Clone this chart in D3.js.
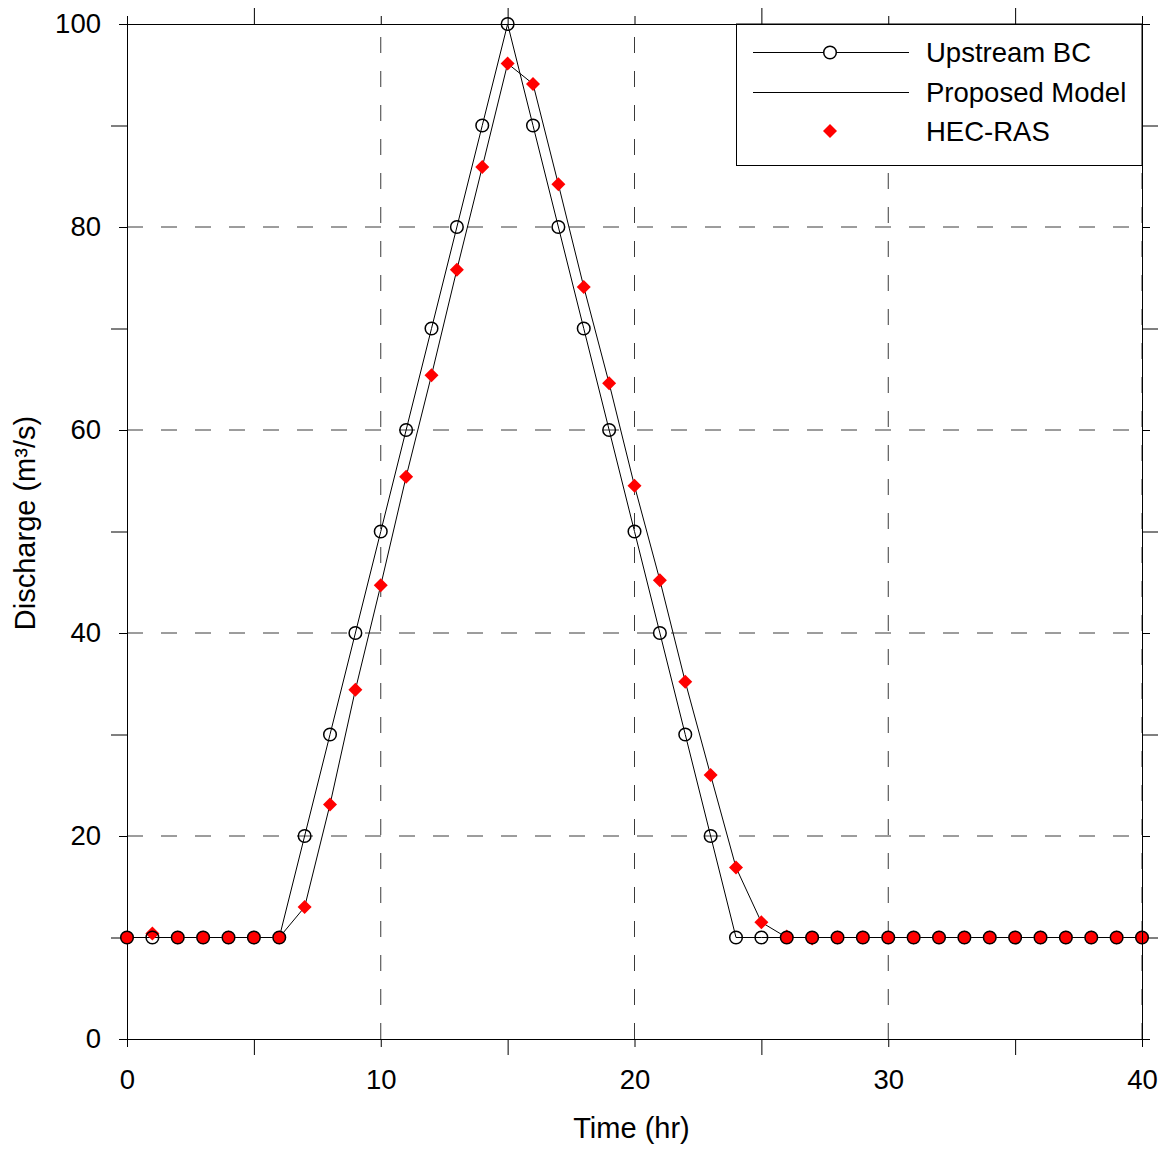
<!DOCTYPE html>
<html>
<head>
<meta charset="utf-8">
<script src="https://cdn.jsdelivr.net/npm/d3@7"></script>
<style>
  html, body { margin: 0; padding: 0; background: #fff; }
  svg { display: block; font-family: "Liberation Sans", Arial, sans-serif; }
</style>
</head>
<body>
<svg id="chart" width="1171" height="1149"></svg>
<script>
// ---- data ----
const times = d3.range(0, 41); // 0..40 hr
const upstreamBC = [10,10,10,10,10,10,10,20,30,40,50,60,70,80,90,100,90,80,70,60,50,40,30,20,10,10,10,10,10,10,10,10,10,10,10,10,10,10,10,10,10];
const hecRas = [10,10.4,10,10,10,10,10,13.0,23.1,34.4,44.7,55.4,65.4,75.8,85.9,96.1,94.1,84.2,74.1,64.6,54.5,45.2,35.2,26.0,16.9,11.5,10.1,9.9,10,10,10,10,10,10,10,10,10,10,10,10,10];
const proposedModel = [10,10,10,10,10,10,10,13.0,23.1,34.4,44.7,55.4,65.4,75.8,85.9,96.1,94.1,84.2,74.1,64.6,54.5,45.2,35.2,26.0,16.9,11.5,10.0,10,10,10,10,10,10,10,10,10,10,10,10,10,10];
const xMajorTicks = [0,10,20,30,40];
const xMinorTicks = [5,15,25,35];
const yMajorTicks = [0,20,40,60,80,100];
const yMinorTicks = [10,30,50,70,90];
const xGrid = [10,20,30,40];
const yGrid = [20,40,60,80];
const legendLabels = ["Upstream BC", "Proposed Model", "HEC-RAS"];
const xTitle = "Time (hr)";
const yTitle = "Discharge (m³/s)";

// ---- layout ----
const L = 127, R = 1142, T = 24, B = 1039;
const svg = d3.select("#chart");
const x = d3.scaleLinear().domain([0, 40]).range([L, R]);
const y = d3.scaleLinear().domain([0, 100]).range([B, T]);
const FS = 27.5;
const TFS = 29;

// gridlines
const grid = svg.append("g").attr("stroke", "#3a3a3a").attr("stroke-width", 1).attr("stroke-dasharray", "16,18");
grid.selectAll(".gx").data(xGrid).join("line")
  .attr("x1", d => x(d)).attr("x2", d => x(d)).attr("y1", B).attr("y2", T);
grid.selectAll(".gy").data(yGrid).join("line")
  .attr("x1", L).attr("x2", R).attr("y1", d => y(d)).attr("y2", d => y(d));

// axes
function styleAxis(g) {
  g.selectAll("path").attr("stroke", "#000").attr("stroke-width", 1);
  g.selectAll("line").attr("stroke", "#000").attr("stroke-width", 1);
  g.selectAll("text").attr("font-size", FS).attr("fill", "#000").attr("font-family", "'Liberation Sans', Arial, sans-serif");
}
// bottom
svg.append("g").attr("transform", `translate(0,${B})`)
  .call(d3.axisBottom(x).tickValues(xMajorTicks).tickFormat(d3.format("d")).tickSize(8).tickSizeOuter(0).tickPadding(22))
  .call(styleAxis);
svg.append("g").attr("transform", `translate(0,${B})`)
  .call(d3.axisBottom(x).tickValues(xMinorTicks).tickFormat("").tickSize(16).tickSizeOuter(0))
  .call(g => g.select("path").remove()).call(styleAxis);
// top
svg.append("g").attr("transform", `translate(0,${T})`)
  .call(d3.axisTop(x).tickValues(xMajorTicks).tickFormat("").tickSize(8).tickSizeOuter(0))
  .call(styleAxis);
svg.append("g").attr("transform", `translate(0,${T})`)
  .call(d3.axisTop(x).tickValues(xMinorTicks).tickFormat("").tickSize(16).tickSizeOuter(0))
  .call(g => g.select("path").remove()).call(styleAxis);
// left
svg.append("g").attr("transform", `translate(${L},0)`)
  .call(d3.axisLeft(y).tickValues(yMajorTicks).tickFormat(d3.format("d")).tickSize(8).tickSizeOuter(0).tickPadding(18))
  .call(styleAxis);
svg.append("g").attr("transform", `translate(${L},0)`)
  .call(d3.axisLeft(y).tickValues(yMinorTicks).tickFormat("").tickSize(16).tickSizeOuter(0))
  .call(g => g.select("path").remove()).call(styleAxis);
// right
svg.append("g").attr("transform", `translate(${R},0)`)
  .call(d3.axisRight(y).tickValues(yMajorTicks).tickFormat("").tickSize(8).tickSizeOuter(0))
  .call(styleAxis);
svg.append("g").attr("transform", `translate(${R},0)`)
  .call(d3.axisRight(y).tickValues(yMinorTicks).tickFormat("").tickSize(16).tickSizeOuter(0))
  .call(g => g.select("path").remove()).call(styleAxis);

// axis titles
svg.append("text").attr("x", (L + R) / 2 - 3).attr("y", 1138).attr("text-anchor", "middle")
  .attr("font-size", TFS).text(xTitle);
svg.append("text").attr("transform", `translate(35,523) rotate(-90)`).attr("text-anchor", "middle")
  .attr("font-size", TFS).text(yTitle);

// lines
const line = d3.line().x((d, i) => x(times[i])).y(d => y(d));
svg.append("path").datum(upstreamBC).attr("d", line).attr("fill", "none").attr("stroke", "#000").attr("stroke-width", 1);
svg.append("path").datum(proposedModel).attr("d", line).attr("fill", "none").attr("stroke", "#000").attr("stroke-width", 1);

// HEC-RAS diamonds
function diamondPath() { return "M0,-7L7,0L0,7L-7,0Z"; }
svg.append("g").selectAll("path").data(hecRas).join("path")
  .attr("d", diamondPath())
  .attr("transform", (d, i) => `translate(${x(times[i])},${y(d)})`)
  .attr("fill", "#ff0000");

// Upstream BC circles
svg.append("g").selectAll("circle").data(upstreamBC).join("circle")
  .attr("cx", (d, i) => x(times[i])).attr("cy", d => y(d)).attr("r", 6.3)
  .attr("fill", (d, i) => Math.abs(hecRas[i] - d) < 0.3 ? "#ff0000" : "none")
  .attr("stroke", "#000").attr("stroke-width", 1.5);

// legend
const lg = svg.append("g");
lg.append("rect").attr("x", 736.5).attr("y", T).attr("width", R - 736.5).attr("height", 165.5 - T)
  .attr("fill", "#fff").attr("stroke", "#000").attr("stroke-width", 1);
const rows = [52, 92, 131];
lg.append("line").attr("x1", 753).attr("x2", 909).attr("y1", rows[0] + 0.5).attr("y2", rows[0] + 0.5).attr("stroke", "#000");
lg.append("circle").attr("cx", 830).attr("cy", rows[0] + 0.5).attr("r", 6.3).attr("fill", "#fff").attr("stroke", "#000").attr("stroke-width", 1.5);
lg.append("line").attr("x1", 753).attr("x2", 909).attr("y1", rows[1] + 0.5).attr("y2", rows[1] + 0.5).attr("stroke", "#000");
lg.append("path").attr("d", diamondPath()).attr("transform", `translate(830,${rows[2]})`).attr("fill", "#ff0000");
lg.selectAll("text").data(legendLabels).join("text")
  .attr("x", 926).attr("y", (d, i) => rows[i] + 10).attr("font-size", FS).text(d => d);
// redraw top/right frame lines over legend box
svg.append("line").attr("x1", L).attr("x2", R).attr("y1", T + 0.5).attr("y2", T + 0.5).attr("stroke", "#000");
svg.append("line").attr("x1", R + 0.5).attr("x2", R + 0.5).attr("y1", T).attr("y2", B).attr("stroke", "#000");
</script>
</body>
</html>
